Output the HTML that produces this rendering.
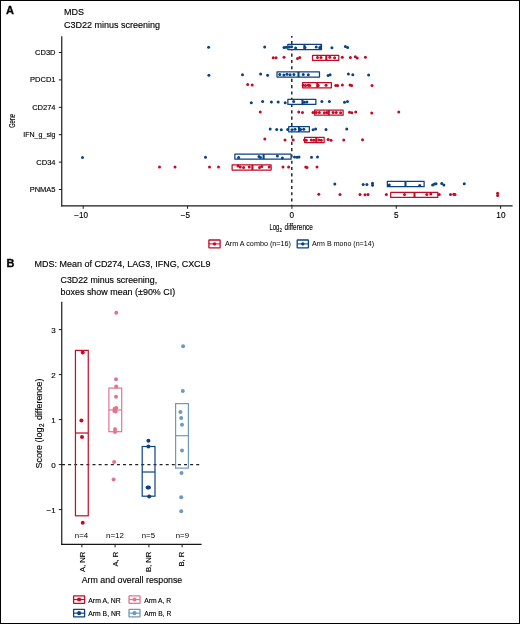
<!DOCTYPE html>
<html><head><meta charset="utf-8"><style>
html,body{margin:0;padding:0;background:#fff;width:520px;height:624px;overflow:hidden}
svg text{font-family:"Liberation Sans", sans-serif}
svg{will-change:transform}
text{stroke:#000;stroke-width:0.14px}
text.b{stroke-width:0.3px}
text.n{stroke-width:0}
</style></head><body>
<svg width="520" height="624" viewBox="0 0 520 624" style="display:block">
<rect x="0" y="0" width="520" height="624" fill="#fff"/>
<rect x="0.5" y="0.5" width="519" height="623" fill="none" stroke="#000" stroke-width="1"/>
<text x="6" y="14.3" font-family='"Liberation Sans", sans-serif' font-weight="bold" font-size="11" fill="#000" class="b">A</text>
<text x="64" y="15" font-family='"Liberation Sans", sans-serif' font-size="9" fill="#000" textLength="20" lengthAdjust="spacingAndGlyphs">MDS</text>
<text x="64" y="27.6" font-family='"Liberation Sans", sans-serif' font-size="9" fill="#000" textLength="96" lengthAdjust="spacingAndGlyphs">C3D22 minus screening</text>
<line x1="291.8" y1="36" x2="291.8" y2="205.5" stroke="#1a1a1a" stroke-width="1.4" stroke-dasharray="3.1 3.2" stroke-dashoffset="1.3"/>
<rect x="287.82" y="44.47" width="33.65" height="5.15" fill="#fff" stroke="#0a4282" stroke-width="1.25" stroke-linejoin="round"/>
<line x1="304.4" y1="44.47" x2="304.4" y2="49.62" stroke="#0a4282" stroke-width="2.1"/>
<rect x="312.52" y="55.27" width="26.25" height="5.15" fill="#fff" stroke="#c40a26" stroke-width="1.25" stroke-linejoin="round"/>
<line x1="326.3" y1="55.27" x2="326.3" y2="60.42" stroke="#c40a26" stroke-width="2.1"/>
<rect x="277.02" y="71.88" width="42.45" height="5.15" fill="#fff" stroke="#0a4282" stroke-width="1.25" stroke-linejoin="round"/>
<line x1="298.5" y1="71.88" x2="298.5" y2="77.03" stroke="#0a4282" stroke-width="2.1"/>
<rect x="302.62" y="82.67" width="28.75" height="5.15" fill="#fff" stroke="#c40a26" stroke-width="1.25" stroke-linejoin="round"/>
<line x1="317.3" y1="82.67" x2="317.3" y2="87.83" stroke="#c40a26" stroke-width="2.1"/>
<rect x="287.87" y="99.27" width="28" height="5.15" fill="#fff" stroke="#0a4282" stroke-width="1.25" stroke-linejoin="round"/>
<line x1="302.5" y1="99.27" x2="302.5" y2="104.42" stroke="#0a4282" stroke-width="2.1"/>
<rect x="314.62" y="110.07" width="28.5" height="5.15" fill="#fff" stroke="#c40a26" stroke-width="1.25" stroke-linejoin="round"/>
<line x1="328.75" y1="110.07" x2="328.75" y2="115.22" stroke="#c40a26" stroke-width="2.1"/>
<rect x="288.72" y="126.67" width="20.65" height="5.15" fill="#fff" stroke="#0a4282" stroke-width="1.25" stroke-linejoin="round"/>
<line x1="299" y1="126.67" x2="299" y2="131.82" stroke="#0a4282" stroke-width="2.1"/>
<rect x="304.62" y="137.47" width="19.5" height="5.15" fill="#fff" stroke="#c40a26" stroke-width="1.25" stroke-linejoin="round"/>
<line x1="316.25" y1="137.47" x2="316.25" y2="142.62" stroke="#c40a26" stroke-width="2.1"/>
<rect x="234.87" y="154.08" width="56.2" height="5.15" fill="#fff" stroke="#0a4282" stroke-width="1.25" stroke-linejoin="round"/>
<line x1="263.6" y1="154.08" x2="263.6" y2="159.23" stroke="#0a4282" stroke-width="2.1"/>
<rect x="232.12" y="164.88" width="39" height="5.15" fill="#fff" stroke="#c40a26" stroke-width="1.25" stroke-linejoin="round"/>
<line x1="252.4" y1="164.88" x2="252.4" y2="170.03" stroke="#c40a26" stroke-width="2.1"/>
<rect x="387.37" y="181.48" width="36.75" height="5.15" fill="#fff" stroke="#0a4282" stroke-width="1.25" stroke-linejoin="round"/>
<line x1="405.5" y1="181.48" x2="405.5" y2="186.63" stroke="#0a4282" stroke-width="2.1"/>
<rect x="390.72" y="192.28" width="47.05" height="5.15" fill="#fff" stroke="#c40a26" stroke-width="1.25" stroke-linejoin="round"/>
<line x1="414.5" y1="192.28" x2="414.5" y2="197.43" stroke="#c40a26" stroke-width="2.1"/>
<circle cx="208.6" cy="47.3" r="1.5" fill="#0a4282"/>
<circle cx="264.7" cy="47" r="1.5" fill="#0a4282"/>
<circle cx="284" cy="47.4" r="1.5" fill="#0a4282"/>
<circle cx="286.2" cy="47.3" r="1.5" fill="#0a4282"/>
<circle cx="289.4" cy="47" r="1.5" fill="#0a4282"/>
<circle cx="291.6" cy="46.8" r="1.5" fill="#0a4282"/>
<circle cx="295.6" cy="48" r="1.5" fill="#0a4282"/>
<circle cx="305" cy="47.5" r="1.5" fill="#0a4282"/>
<circle cx="316.25" cy="47" r="1.5" fill="#0a4282"/>
<circle cx="319.75" cy="47.8" r="1.5" fill="#0a4282"/>
<circle cx="320.6" cy="46.8" r="1.5" fill="#0a4282"/>
<circle cx="331.9" cy="47.75" r="1.5" fill="#0a4282"/>
<circle cx="345.4" cy="46.6" r="1.5" fill="#0a4282"/>
<circle cx="347.6" cy="47.4" r="1.5" fill="#0a4282"/>
<circle cx="273.2" cy="57.8" r="1.5" fill="#c40a26"/>
<circle cx="276" cy="57.8" r="1.5" fill="#c40a26"/>
<circle cx="284" cy="57.25" r="1.5" fill="#c40a26"/>
<circle cx="297.5" cy="58.5" r="1.5" fill="#c40a26"/>
<circle cx="299.75" cy="57.5" r="1.5" fill="#c40a26"/>
<circle cx="317.5" cy="57.6" r="1.5" fill="#c40a26"/>
<circle cx="321" cy="57.6" r="1.5" fill="#c40a26"/>
<circle cx="329.75" cy="57.2" r="1.5" fill="#c40a26"/>
<circle cx="334.6" cy="57.8" r="1.5" fill="#c40a26"/>
<circle cx="342.25" cy="57.2" r="1.5" fill="#c40a26"/>
<circle cx="350.4" cy="57.6" r="1.5" fill="#c40a26"/>
<circle cx="355.3" cy="56.8" r="1.5" fill="#c40a26"/>
<circle cx="357.2" cy="57.9" r="1.5" fill="#c40a26"/>
<circle cx="365.4" cy="57.2" r="1.5" fill="#c40a26"/>
<circle cx="208.9" cy="75.2" r="1.5" fill="#0a4282"/>
<circle cx="242.5" cy="74.8" r="1.5" fill="#0a4282"/>
<circle cx="260.6" cy="74.1" r="1.5" fill="#0a4282"/>
<circle cx="267.6" cy="75.2" r="1.5" fill="#0a4282"/>
<circle cx="279.75" cy="74.5" r="1.5" fill="#0a4282"/>
<circle cx="283.9" cy="75" r="1.5" fill="#0a4282"/>
<circle cx="287" cy="74.2" r="1.5" fill="#0a4282"/>
<circle cx="290.1" cy="74.8" r="1.5" fill="#0a4282"/>
<circle cx="293.9" cy="74.4" r="1.5" fill="#0a4282"/>
<circle cx="303.25" cy="74.6" r="1.5" fill="#0a4282"/>
<circle cx="308.25" cy="74.8" r="1.5" fill="#0a4282"/>
<circle cx="328.1" cy="75.5" r="1.5" fill="#0a4282"/>
<circle cx="330.1" cy="74.7" r="1.5" fill="#0a4282"/>
<circle cx="348.4" cy="74" r="1.5" fill="#0a4282"/>
<circle cx="352.8" cy="74.8" r="1.5" fill="#0a4282"/>
<circle cx="368.6" cy="75" r="1.5" fill="#0a4282"/>
<circle cx="247.7" cy="84.4" r="1.5" fill="#c40a26"/>
<circle cx="252.2" cy="84.9" r="1.5" fill="#c40a26"/>
<circle cx="303.25" cy="85.3" r="1.5" fill="#c40a26"/>
<circle cx="305.5" cy="85.6" r="1.5" fill="#c40a26"/>
<circle cx="308.25" cy="85.2" r="1.5" fill="#c40a26"/>
<circle cx="309.75" cy="85.6" r="1.5" fill="#c40a26"/>
<circle cx="318.25" cy="85.5" r="1.5" fill="#c40a26"/>
<circle cx="326" cy="85.2" r="1.5" fill="#c40a26"/>
<circle cx="335.75" cy="85.4" r="1.5" fill="#c40a26"/>
<circle cx="337.6" cy="85.4" r="1.5" fill="#c40a26"/>
<circle cx="342.4" cy="85" r="1.5" fill="#c40a26"/>
<circle cx="350" cy="85" r="1.5" fill="#c40a26"/>
<circle cx="351.6" cy="85.4" r="1.5" fill="#c40a26"/>
<circle cx="372" cy="85.6" r="1.5" fill="#c40a26"/>
<circle cx="251.3" cy="102.7" r="1.5" fill="#0a4282"/>
<circle cx="262.6" cy="101.4" r="1.5" fill="#0a4282"/>
<circle cx="271.4" cy="101.9" r="1.5" fill="#0a4282"/>
<circle cx="278.2" cy="102.1" r="1.5" fill="#0a4282"/>
<circle cx="285.2" cy="102.7" r="1.5" fill="#0a4282"/>
<circle cx="293.7" cy="101.6" r="1.5" fill="#0a4282"/>
<circle cx="304.4" cy="102.3" r="1.5" fill="#0a4282"/>
<circle cx="306.9" cy="102" r="1.5" fill="#0a4282"/>
<circle cx="321.9" cy="101.6" r="1.5" fill="#0a4282"/>
<circle cx="329.4" cy="101.6" r="1.5" fill="#0a4282"/>
<circle cx="344.5" cy="102.25" r="1.5" fill="#0a4282"/>
<circle cx="347.5" cy="101.6" r="1.5" fill="#0a4282"/>
<circle cx="260.25" cy="112" r="1.5" fill="#c40a26"/>
<circle cx="298.75" cy="112" r="1.5" fill="#c40a26"/>
<circle cx="302.5" cy="112.5" r="1.5" fill="#c40a26"/>
<circle cx="313" cy="112.6" r="1.5" fill="#c40a26"/>
<circle cx="316.25" cy="112.6" r="1.5" fill="#c40a26"/>
<circle cx="319.4" cy="112.4" r="1.5" fill="#c40a26"/>
<circle cx="324.4" cy="112.8" r="1.5" fill="#c40a26"/>
<circle cx="326.9" cy="112.4" r="1.5" fill="#c40a26"/>
<circle cx="333.1" cy="112.6" r="1.5" fill="#c40a26"/>
<circle cx="336.25" cy="112.4" r="1.5" fill="#c40a26"/>
<circle cx="340.6" cy="112.8" r="1.5" fill="#c40a26"/>
<circle cx="349.5" cy="112.3" r="1.5" fill="#c40a26"/>
<circle cx="351.75" cy="112.8" r="1.5" fill="#c40a26"/>
<circle cx="355.75" cy="112.1" r="1.5" fill="#c40a26"/>
<circle cx="371.75" cy="113" r="1.5" fill="#c40a26"/>
<circle cx="398.75" cy="112" r="1.5" fill="#c40a26"/>
<circle cx="270.2" cy="129" r="1.5" fill="#0a4282"/>
<circle cx="276.7" cy="129.5" r="1.5" fill="#0a4282"/>
<circle cx="281.3" cy="129.75" r="1.5" fill="#0a4282"/>
<circle cx="287.6" cy="129.6" r="1.5" fill="#0a4282"/>
<circle cx="292" cy="129.8" r="1.5" fill="#0a4282"/>
<circle cx="295" cy="129.2" r="1.5" fill="#0a4282"/>
<circle cx="300.6" cy="129.6" r="1.5" fill="#0a4282"/>
<circle cx="303.75" cy="129.3" r="1.5" fill="#0a4282"/>
<circle cx="313.1" cy="129.75" r="1.5" fill="#0a4282"/>
<circle cx="315.6" cy="129" r="1.5" fill="#0a4282"/>
<circle cx="326" cy="129.5" r="1.5" fill="#0a4282"/>
<circle cx="346.75" cy="129" r="1.5" fill="#0a4282"/>
<circle cx="264.8" cy="139" r="1.5" fill="#c40a26"/>
<circle cx="285" cy="140.1" r="1.5" fill="#c40a26"/>
<circle cx="293.2" cy="140" r="1.5" fill="#c40a26"/>
<circle cx="304.5" cy="140" r="1.5" fill="#c40a26"/>
<circle cx="306.25" cy="140.2" r="1.5" fill="#c40a26"/>
<circle cx="311.25" cy="140" r="1.5" fill="#c40a26"/>
<circle cx="313.75" cy="140.3" r="1.5" fill="#c40a26"/>
<circle cx="318.75" cy="140" r="1.5" fill="#c40a26"/>
<circle cx="321.25" cy="140.2" r="1.5" fill="#c40a26"/>
<circle cx="328.1" cy="139.5" r="1.5" fill="#c40a26"/>
<circle cx="331" cy="140.25" r="1.5" fill="#c40a26"/>
<circle cx="343.75" cy="140" r="1.5" fill="#c40a26"/>
<circle cx="362.5" cy="139.75" r="1.5" fill="#c40a26"/>
<circle cx="82.5" cy="157.5" r="1.5" fill="#0a4282"/>
<circle cx="205.5" cy="157.25" r="1.5" fill="#0a4282"/>
<circle cx="238.6" cy="157.5" r="1.5" fill="#0a4282"/>
<circle cx="259" cy="156.5" r="1.5" fill="#0a4282"/>
<circle cx="260.5" cy="157.5" r="1.5" fill="#0a4282"/>
<circle cx="277.4" cy="156" r="1.5" fill="#0a4282"/>
<circle cx="282.4" cy="158" r="1.5" fill="#0a4282"/>
<circle cx="294.5" cy="157" r="1.5" fill="#0a4282"/>
<circle cx="297" cy="157.2" r="1.5" fill="#0a4282"/>
<circle cx="299" cy="157" r="1.5" fill="#0a4282"/>
<circle cx="311.5" cy="157.2" r="1.5" fill="#0a4282"/>
<circle cx="317.5" cy="157" r="1.5" fill="#0a4282"/>
<circle cx="159.5" cy="167" r="1.5" fill="#c40a26"/>
<circle cx="175" cy="167" r="1.5" fill="#c40a26"/>
<circle cx="209.5" cy="167" r="1.5" fill="#c40a26"/>
<circle cx="218.5" cy="167" r="1.5" fill="#c40a26"/>
<circle cx="238" cy="166" r="1.5" fill="#c40a26"/>
<circle cx="240.25" cy="167" r="1.5" fill="#c40a26"/>
<circle cx="243.6" cy="167.5" r="1.5" fill="#c40a26"/>
<circle cx="249.25" cy="167" r="1.5" fill="#c40a26"/>
<circle cx="259.5" cy="167.5" r="1.5" fill="#c40a26"/>
<circle cx="261.75" cy="166.5" r="1.5" fill="#c40a26"/>
<circle cx="269.25" cy="167" r="1.5" fill="#c40a26"/>
<circle cx="283" cy="167" r="1.5" fill="#c40a26"/>
<circle cx="288.6" cy="167" r="1.5" fill="#c40a26"/>
<circle cx="305.75" cy="167" r="1.5" fill="#c40a26"/>
<circle cx="307" cy="167.5" r="1.5" fill="#c40a26"/>
<circle cx="317" cy="167" r="1.5" fill="#c40a26"/>
<circle cx="334.8" cy="184" r="1.5" fill="#0a4282"/>
<circle cx="363.2" cy="184.5" r="1.5" fill="#0a4282"/>
<circle cx="366.9" cy="184.5" r="1.5" fill="#0a4282"/>
<circle cx="372.5" cy="183.3" r="1.5" fill="#0a4282"/>
<circle cx="372.5" cy="185.2" r="1.5" fill="#0a4282"/>
<circle cx="389.25" cy="185" r="1.5" fill="#0a4282"/>
<circle cx="419.75" cy="185.5" r="1.5" fill="#0a4282"/>
<circle cx="432.6" cy="185" r="1.5" fill="#0a4282"/>
<circle cx="434.5" cy="184" r="1.5" fill="#0a4282"/>
<circle cx="436" cy="183.75" r="1.5" fill="#0a4282"/>
<circle cx="441.75" cy="183.5" r="1.5" fill="#0a4282"/>
<circle cx="443.9" cy="185" r="1.5" fill="#0a4282"/>
<circle cx="464.25" cy="183.8" r="1.5" fill="#0a4282"/>
<circle cx="318.75" cy="194.3" r="1.5" fill="#c40a26"/>
<circle cx="340" cy="194.5" r="1.5" fill="#c40a26"/>
<circle cx="360" cy="194.5" r="1.5" fill="#c40a26"/>
<circle cx="365" cy="194.8" r="1.5" fill="#c40a26"/>
<circle cx="368" cy="194.4" r="1.5" fill="#c40a26"/>
<circle cx="386.4" cy="194.5" r="1.5" fill="#c40a26"/>
<circle cx="404.5" cy="194.5" r="1.5" fill="#c40a26"/>
<circle cx="426.75" cy="194.5" r="1.5" fill="#c40a26"/>
<circle cx="430.75" cy="194" r="1.5" fill="#c40a26"/>
<circle cx="439.25" cy="194.5" r="1.5" fill="#c40a26"/>
<circle cx="450.5" cy="194.5" r="1.5" fill="#c40a26"/>
<circle cx="453.75" cy="194.3" r="1.5" fill="#c40a26"/>
<circle cx="455" cy="194.5" r="1.5" fill="#c40a26"/>
<circle cx="497.6" cy="193.3" r="1.5" fill="#c40a26"/>
<circle cx="497.6" cy="195.4" r="1.5" fill="#c40a26"/>
<line x1="61.75" y1="36.2" x2="61.75" y2="206.4" stroke="#1a1a1a" stroke-width="1.2"/>
<line x1="61.4" y1="205.8" x2="512.6" y2="205.8" stroke="#1a1a1a" stroke-width="1.2"/>
<line x1="58.8" y1="52.5" x2="62" y2="52.5" stroke="#1a1a1a" stroke-width="1"/>
<text x="55.5" y="55" text-anchor="end" font-family='"Liberation Sans", sans-serif' font-size="7.5" fill="#000">CD3D</text>
<line x1="58.8" y1="79.9" x2="62" y2="79.9" stroke="#1a1a1a" stroke-width="1"/>
<text x="55.5" y="82.4" text-anchor="end" font-family='"Liberation Sans", sans-serif' font-size="7.5" fill="#000">PDCD1</text>
<line x1="58.8" y1="107.3" x2="62" y2="107.3" stroke="#1a1a1a" stroke-width="1"/>
<text x="55.5" y="109.8" text-anchor="end" font-family='"Liberation Sans", sans-serif' font-size="7.5" fill="#000">CD274</text>
<line x1="58.8" y1="134.7" x2="62" y2="134.7" stroke="#1a1a1a" stroke-width="1"/>
<text x="55.5" y="137.2" text-anchor="end" font-family='"Liberation Sans", sans-serif' font-size="7.5" fill="#000" textLength="32.3" lengthAdjust="spacingAndGlyphs">IFN_g_sig</text>
<line x1="58.8" y1="162.1" x2="62" y2="162.1" stroke="#1a1a1a" stroke-width="1"/>
<text x="55.5" y="164.6" text-anchor="end" font-family='"Liberation Sans", sans-serif' font-size="7.5" fill="#000">CD34</text>
<line x1="58.8" y1="189.5" x2="62" y2="189.5" stroke="#1a1a1a" stroke-width="1"/>
<text x="55.5" y="192" text-anchor="end" font-family='"Liberation Sans", sans-serif' font-size="7.5" fill="#000">PNMA5</text>
<line x1="83.2" y1="205.8" x2="83.2" y2="208.8" stroke="#1a1a1a" stroke-width="1"/>
<text x="74.3" y="217.8" font-family='"Liberation Sans", sans-serif' font-size="8.2" fill="#000" textLength="13.7" lengthAdjust="spacingAndGlyphs">−10</text>
<line x1="187.55" y1="205.8" x2="187.55" y2="208.8" stroke="#1a1a1a" stroke-width="1"/>
<text x="180.8" y="217.8" font-family='"Liberation Sans", sans-serif' font-size="8.2" fill="#000" textLength="9.3" lengthAdjust="spacingAndGlyphs">−5</text>
<line x1="291.9" y1="205.8" x2="291.9" y2="208.8" stroke="#1a1a1a" stroke-width="1"/>
<text x="291.9" y="217.8" text-anchor="middle" font-family='"Liberation Sans", sans-serif' font-size="8.2" fill="#000">0</text>
<line x1="396.25" y1="205.8" x2="396.25" y2="208.8" stroke="#1a1a1a" stroke-width="1"/>
<text x="396.2" y="217.8" text-anchor="middle" font-family='"Liberation Sans", sans-serif' font-size="8.2" fill="#000">5</text>
<line x1="500.6" y1="205.8" x2="500.6" y2="208.8" stroke="#1a1a1a" stroke-width="1"/>
<text x="500.9" y="217.8" text-anchor="middle" font-family='"Liberation Sans", sans-serif' font-size="8.2" fill="#000">10</text>
<text x="269.6" y="230" font-family='"Liberation Sans", sans-serif' font-size="8.4" fill="#000" textLength="9.8" lengthAdjust="spacingAndGlyphs">Log</text>
<text x="279.5" y="232" font-family='"Liberation Sans", sans-serif' font-size="6" fill="#000" textLength="2.5" lengthAdjust="spacingAndGlyphs">2</text>
<text x="284.6" y="230" font-family='"Liberation Sans", sans-serif' font-size="8.4" fill="#000" textLength="28.2" lengthAdjust="spacingAndGlyphs">difference</text>
<text transform="translate(15.4,127.8) rotate(-90)" font-family='"Liberation Sans", sans-serif' font-size="9.8" fill="#000" textLength="13.8" lengthAdjust="spacingAndGlyphs">Gene</text>
<rect x="208.9" y="240" width="11.2" height="7.8" fill="#fff" stroke="#c40a26" stroke-width="1.3" rx="0.4"/>
<line x1="208.9" y1="243.9" x2="220.1" y2="243.9" stroke="#c40a26" stroke-width="1.0"/>
<circle cx="214.5" cy="243.9" r="1.7" fill="#c40a26"/>
<text x="225" y="246.3" font-family='"Liberation Sans", sans-serif' font-size="7.2" fill="#000" class="n" textLength="66" lengthAdjust="spacingAndGlyphs">Arm A combo (n=16)</text>
<rect x="297.2" y="240" width="11.2" height="7.8" fill="#fff" stroke="#0a4282" stroke-width="1.3" rx="0.4"/>
<line x1="297.2" y1="243.9" x2="308.4" y2="243.9" stroke="#0a4282" stroke-width="1.0"/>
<circle cx="302.8" cy="243.9" r="1.7" fill="#0a4282"/>
<text x="312" y="246.3" font-family='"Liberation Sans", sans-serif' font-size="7.2" fill="#000" class="n" textLength="62" lengthAdjust="spacingAndGlyphs">Arm B mono (n=14)</text>
<text x="6.5" y="267" font-family='"Liberation Sans", sans-serif' font-weight="bold" font-size="11" fill="#000" class="b">B</text>
<text x="34.6" y="267" font-family='"Liberation Sans", sans-serif' font-size="9" fill="#000" textLength="176" lengthAdjust="spacingAndGlyphs">MDS: Mean of CD274, LAG3, IFNG, CXCL9</text>
<text x="60.6" y="282.7" font-family='"Liberation Sans", sans-serif' font-size="9" fill="#000" textLength="96.5" lengthAdjust="spacingAndGlyphs">C3D22 minus screening,</text>
<text x="60.6" y="294.7" font-family='"Liberation Sans", sans-serif' font-size="9" fill="#000" textLength="114.6" lengthAdjust="spacingAndGlyphs">boxes show mean (±90% CI)</text>
<line x1="62" y1="464.6" x2="201.5" y2="464.6" stroke="#222" stroke-width="1.2" stroke-dasharray="3 3.1"/>
<rect x="75.45" y="350.4" width="12.8" height="165.4" fill="none" stroke="#c40a26" stroke-width="1.2"/>
<line x1="75.45" y1="433" x2="88.25" y2="433" stroke="#c40a26" stroke-width="1.2"/>
<rect x="108.9" y="388.1" width="12.8" height="43.6" fill="none" stroke="#e07590" stroke-width="1.2"/>
<line x1="108.9" y1="410" x2="121.7" y2="410" stroke="#e07590" stroke-width="1.2"/>
<rect x="142.2" y="446.5" width="12.8" height="49.7" fill="none" stroke="#0a4282" stroke-width="1.2"/>
<line x1="142.2" y1="472" x2="155" y2="472" stroke="#0a4282" stroke-width="1.2"/>
<rect x="175.6" y="403.6" width="12.8" height="64.5" fill="none" stroke="#6f98bf" stroke-width="1.2"/>
<line x1="175.6" y1="435.7" x2="188.4" y2="435.7" stroke="#6f98bf" stroke-width="1.2"/>
<circle cx="82.7" cy="352.5" r="2" fill="#c40a26"/>
<circle cx="81.4" cy="420.4" r="2" fill="#c40a26"/>
<circle cx="82" cy="437.1" r="2" fill="#c40a26"/>
<circle cx="82.75" cy="522.8" r="2" fill="#c40a26"/>
<circle cx="116.3" cy="312.8" r="2" fill="#e07590"/>
<circle cx="116" cy="379.3" r="2" fill="#e07590"/>
<circle cx="116.2" cy="386.5" r="2" fill="#e07590"/>
<circle cx="116" cy="396.8" r="2" fill="#e07590"/>
<circle cx="116.2" cy="408" r="2" fill="#e07590"/>
<circle cx="114.6" cy="408.8" r="2" fill="#e07590"/>
<circle cx="114.4" cy="411" r="2" fill="#e07590"/>
<circle cx="115.6" cy="411.6" r="2" fill="#e07590"/>
<circle cx="115" cy="429.3" r="2" fill="#e07590"/>
<circle cx="115" cy="432" r="2" fill="#e07590"/>
<circle cx="114.1" cy="462" r="2" fill="#e07590"/>
<circle cx="113.6" cy="479.6" r="2" fill="#e07590"/>
<circle cx="148.4" cy="440.7" r="2" fill="#0a4282"/>
<circle cx="148.4" cy="446.5" r="2" fill="#0a4282"/>
<circle cx="147.6" cy="487.4" r="2" fill="#0a4282"/>
<circle cx="148.9" cy="487.4" r="2" fill="#0a4282"/>
<circle cx="149.2" cy="496.5" r="2" fill="#0a4282"/>
<circle cx="183.1" cy="346.2" r="2" fill="#6f98bf"/>
<circle cx="182.8" cy="391.1" r="2" fill="#6f98bf"/>
<circle cx="180.4" cy="411.9" r="2" fill="#6f98bf"/>
<circle cx="181.2" cy="417.9" r="2" fill="#6f98bf"/>
<circle cx="182" cy="424.8" r="2" fill="#6f98bf"/>
<circle cx="182" cy="450.4" r="2" fill="#6f98bf"/>
<circle cx="181.5" cy="472.9" r="2" fill="#6f98bf"/>
<circle cx="181.2" cy="497.2" r="2" fill="#6f98bf"/>
<circle cx="181.2" cy="511.3" r="2" fill="#6f98bf"/>
<line x1="61.75" y1="301.8" x2="61.75" y2="544.9" stroke="#1a1a1a" stroke-width="1.2"/>
<line x1="61.4" y1="544.3" x2="201.6" y2="544.3" stroke="#151515" stroke-width="1.15"/>
<line x1="58.8" y1="329.6" x2="62" y2="329.6" stroke="#1a1a1a" stroke-width="1"/>
<text x="55.7" y="332.5" text-anchor="end" font-family='"Liberation Sans", sans-serif' font-size="8" fill="#000">3</text>
<line x1="58.8" y1="374.6" x2="62" y2="374.6" stroke="#1a1a1a" stroke-width="1"/>
<text x="55.7" y="377.5" text-anchor="end" font-family='"Liberation Sans", sans-serif' font-size="8" fill="#000">2</text>
<line x1="58.8" y1="419.6" x2="62" y2="419.6" stroke="#1a1a1a" stroke-width="1"/>
<text x="55.7" y="422.5" text-anchor="end" font-family='"Liberation Sans", sans-serif' font-size="8" fill="#000">1</text>
<line x1="58.8" y1="464.6" x2="62" y2="464.6" stroke="#1a1a1a" stroke-width="1"/>
<text x="55.7" y="467.5" text-anchor="end" font-family='"Liberation Sans", sans-serif' font-size="8" fill="#000">0</text>
<line x1="58.8" y1="509.6" x2="62" y2="509.6" stroke="#1a1a1a" stroke-width="1"/>
<text x="55.7" y="512.5" text-anchor="end" font-family='"Liberation Sans", sans-serif' font-size="8" fill="#000">−1</text>
<g transform="translate(41.75,0) rotate(-90)">
<text x="-468.6" y="0" font-family='"Liberation Sans", sans-serif' font-size="9" fill="#000" textLength="41.1" lengthAdjust="spacingAndGlyphs">Score (log</text>
<text x="-427" y="2.1" font-family='"Liberation Sans", sans-serif' font-size="6.3" fill="#000">2</text>
<text x="-420" y="0" font-family='"Liberation Sans", sans-serif' font-size="9" fill="#000" textLength="41.4" lengthAdjust="spacingAndGlyphs">difference)</text>
</g>
<text x="74.85" y="537.5" font-family='"Liberation Sans", sans-serif' font-size="7" fill="#000" class="n" textLength="13.3" lengthAdjust="spacingAndGlyphs">n=4</text>
<line x1="81.9" y1="544" x2="81.9" y2="547.3" stroke="#1a1a1a" stroke-width="1"/>
<text transform="translate(85,551.7) rotate(-90)" text-anchor="end" font-family='"Liberation Sans", sans-serif' font-size="7.6" fill="#000">A, NR</text>
<text x="106.05" y="537.5" font-family='"Liberation Sans", sans-serif' font-size="7" fill="#000" class="n" textLength="17.9" lengthAdjust="spacingAndGlyphs">n=12</text>
<line x1="115.1" y1="544" x2="115.1" y2="547.3" stroke="#1a1a1a" stroke-width="1"/>
<text transform="translate(118,551.7) rotate(-90)" text-anchor="end" font-family='"Liberation Sans", sans-serif' font-size="7.6" fill="#000">A, R</text>
<text x="141.8" y="537.5" font-family='"Liberation Sans", sans-serif' font-size="7" fill="#000" class="n" textLength="13.2" lengthAdjust="spacingAndGlyphs">n=5</text>
<line x1="148.9" y1="544" x2="148.9" y2="547.3" stroke="#1a1a1a" stroke-width="1"/>
<text transform="translate(151,551.7) rotate(-90)" text-anchor="end" font-family='"Liberation Sans", sans-serif' font-size="7.6" fill="#000">B, NR</text>
<text x="175.8" y="537.5" font-family='"Liberation Sans", sans-serif' font-size="7" fill="#000" class="n" textLength="13.2" lengthAdjust="spacingAndGlyphs">n=9</text>
<line x1="182.1" y1="544" x2="182.1" y2="547.3" stroke="#1a1a1a" stroke-width="1"/>
<text transform="translate(184,551.7) rotate(-90)" text-anchor="end" font-family='"Liberation Sans", sans-serif' font-size="7.6" fill="#000">B, R</text>
<text x="81.7" y="582.8" font-family='"Liberation Sans", sans-serif' font-size="9" fill="#000" textLength="100.6" lengthAdjust="spacingAndGlyphs">Arm and overall response</text>
<rect x="73.6" y="595.8" width="11" height="7.5" fill="#fff" stroke="#c40a26" stroke-width="1.3" rx="0.4"/>
<line x1="73.6" y1="599.55" x2="84.6" y2="599.55" stroke="#c40a26" stroke-width="1.15"/>
<circle cx="79.1" cy="599.55" r="2.05" fill="#c40a26"/>
<text x="88.3" y="602.7" font-family='"Liberation Sans", sans-serif' font-size="7.2" fill="#000" textLength="32.4" lengthAdjust="spacingAndGlyphs">Arm A, NR</text>
<rect x="129" y="595.8" width="11" height="7.5" fill="#fff" stroke="#e07590" stroke-width="1.3" rx="0.4"/>
<line x1="129" y1="599.55" x2="140" y2="599.55" stroke="#e07590" stroke-width="1.15"/>
<circle cx="134.5" cy="599.55" r="2.05" fill="#e07590"/>
<text x="144.2" y="602.7" font-family='"Liberation Sans", sans-serif' font-size="7.2" fill="#000" textLength="27" lengthAdjust="spacingAndGlyphs">Arm A, R</text>
<rect x="73.6" y="609.4" width="11" height="7.5" fill="#fff" stroke="#0a4282" stroke-width="1.3" rx="0.4"/>
<line x1="73.6" y1="613.15" x2="84.6" y2="613.15" stroke="#0a4282" stroke-width="1.15"/>
<circle cx="79.1" cy="613.15" r="2.05" fill="#0a4282"/>
<text x="88.3" y="615.9" font-family='"Liberation Sans", sans-serif' font-size="7.2" fill="#000" textLength="32.4" lengthAdjust="spacingAndGlyphs">Arm B, NR</text>
<rect x="129" y="609.4" width="11" height="7.5" fill="#fff" stroke="#6f98bf" stroke-width="1.3" rx="0.4"/>
<line x1="129" y1="613.15" x2="140" y2="613.15" stroke="#6f98bf" stroke-width="1.15"/>
<circle cx="134.5" cy="613.15" r="2.05" fill="#6f98bf"/>
<text x="144.2" y="615.9" font-family='"Liberation Sans", sans-serif' font-size="7.2" fill="#000" textLength="27" lengthAdjust="spacingAndGlyphs">Arm B, R</text>
</svg>
</body></html>
